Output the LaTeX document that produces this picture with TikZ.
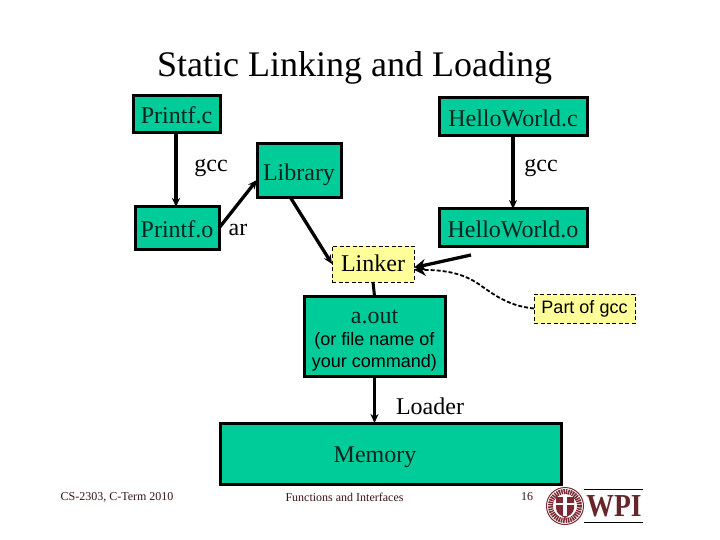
\documentclass[tikz,border=0pt]{standalone}
\usepackage{fontspec}
\setmainfont{Liberation Serif}
\setsansfont{Liberation Sans}
\usetikzlibrary{arrows.meta}
\definecolor{boxgreen}{HTML}{00CC99}
\definecolor{noteyellow}{HTML}{FFFF99}
\definecolor{sealred}{HTML}{7A2A33}
\definecolor{boxtext}{HTML}{03241F}
\definecolor{foottext}{HTML}{3A1414}
\tikzset{
  greenbox/.style={draw=black,line width=3pt,fill=boxgreen,inner sep=0pt,outer sep=0pt,text=boxtext,font=\fontsize{24}{28}\selectfont,text height=23pt,text depth=4pt},
  notebox/.style={draw=black,dash pattern=on 4pt off 2.5pt,line width=1pt,fill=noteyellow,inner sep=0pt,outer sep=0pt},
  link/.style={draw=black,line width=3.3pt,-{Stealth[length=9pt,width=8pt]}},
  bighead/.style={-{Stealth[length=12pt,width=12pt]}},
  plain/.style={inner sep=0pt,font=\fontsize{24}{28}\selectfont},
  foot/.style={inner sep=0pt,text=foottext,font=\fontsize{12}{14}\selectfont},
}
\newcommand{\bx}[7][]{\node[#2,minimum width=#5pt-#4pt,minimum height=#7pt-#6pt,anchor=center,#1] (#3) at ({(#4+#5)/2},{(#6+#7)/2})}
\begin{document}
\begin{tikzpicture}[x=1pt,y=-1pt]
\useasboundingbox (0,0) rectangle (720,540);
\fill[white] (0,0) rectangle (720,540);
\node[inner sep=0pt,font=\fontsize{36}{40}\selectfont] (title) at (354.5,68) {Static Linking and Loading};
\bx{greenbox}{memory}{220}{561}{423}{484} {};
\node[plain,text=boxtext] (memlabel) at (375,457) {Memory};
\bx{greenbox}{pc}{133}{220}{96}{133} {Printf.c};
\bx{greenbox}{po}{135}{219}{207}{249} {Printf.o};
\bx{greenbox}{lib}{257}{341}{144}{198} {Library};
\bx{greenbox}{hc}{439}{587}{98}{136} {HelloWorld.c};
\bx{greenbox}{ho}{439}{587}{209}{246} {HelloWorld.o};
\bx{greenbox}{aout}{304}{445}{296}{376} {};
\node[plain,text=boxtext] (aoutlabel) at (374.5,317) {a.out};
\node[inner sep=0pt,align=center,font=\sffamily\fontsize{18}{22}\selectfont] (aoutnote) at (374.5,352) {(or file name of\\your command)};
\bx{notebox}{linker}{332}{414}{246}{282} {\fontsize{24}{28}\selectfont\rule[-5pt]{0pt}{24pt}Linker};
\bx{notebox}{part}{534}{635}{294}{323} {\sffamily\fontsize{18}{20}\selectfont\raisebox{-1pt}{Part of gcc}};
\node[plain] (gccl) at (211,168) {gcc};
\node[plain] (gccr) at (541,168) {gcc};
\node[plain] (ar) at (238,230) {ar};
\node[plain] (loader) at (430,406) {Loader};
\coordinate (hotail) at (471,255);
\draw[link] (pc.south -| 176,0) -- (po.north -| 176,0);
\draw[link] (po.east) -- (lib.192);
\draw[link] (lib.253) -- (linker.west);
\draw[link] (hc.south) -- (ho.north);
\draw[link,bighead] (hotail) -- (linker.-5);
\draw[draw=black,line width=3pt] (linker.south) -- (aout.north);
\draw[link] (aout.south) -- (memory.north -| aout.south);
\coordinate (bend) at (480,285);
\draw[black,dash pattern=on 4pt off 2pt,line width=1.8pt,bighead] (part.west) .. controls (510,306) and (497,297) .. (bend) .. controls (463,273) and (445,270) .. (linker.-8);
\node[foot] (f1) at (117,497) {CS-2303, C-Term 2010};
\node[foot] (f2) at (344.5,497) {Functions and Interfaces};
\node[foot] (f3) at (527,497) {16};
% WPI seal
\node[draw=sealred,fill=white,circle,line width=1pt,minimum size=37pt,inner sep=0pt] (seal) at (565,506) {};
\draw[sealred,line width=5pt,dash pattern=on 1.5pt off .8pt] (seal) circle (14.5);
\fill[sealred] (556,497) -- (574,497) -- (574,508) .. controls (574,514) and (568,516) .. (565,518) .. controls (562,516) and (556,514) .. (556,508) -- cycle;
\fill[white] (556,503) rectangle (574,505);
\fill[white] (563,497) rectangle (567,516);
% WPI mark
\node[inner sep=0pt,text=sealred!85!black,font=\bfseries\fontsize{32}{34}\selectfont] (wpi) at (614,506) {\scalebox{.86}[1]{WPI}};
\draw[black,line width=.8pt] (584,489) -- (643,489);
\draw[black,line width=.8pt] (584,522) -- (643,522);
\end{tikzpicture}
\end{document}
